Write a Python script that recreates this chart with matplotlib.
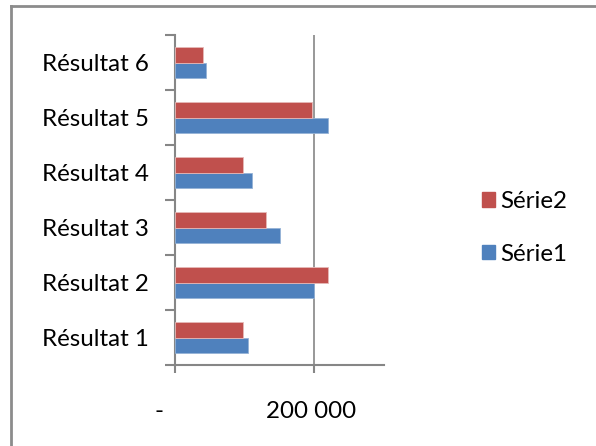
import matplotlib
matplotlib.use("Agg")
import matplotlib.pyplot as plt
from matplotlib.lines import Line2D
from matplotlib.patches import Patch
import numpy as np

categories = ["Résultat 1", "Résultat 2", "Résultat 3", "Résultat 4", "Résultat 5", "Résultat 6"]
serie1 = [105000, 200000, 150000, 110000, 220000, 45000]
serie2 = [98000, 220000, 130000, 98000, 196000, 40000]
x_ticks = [0, 200000]
x_tick_labels = ["-     ", "200 000 "]

plt.rcParams['font.family'] = ['Lato', 'DejaVu Sans']
FS = 17.4
GRAY = '#868686'
RED = '#C0504D'
BLUE = '#4F81BD'

fig = plt.figure(figsize=(5.96, 4.46), dpi=100)
ax = fig.add_axes([175/596, 1-365/446, (384-175)/596, (365-35)/446])

y = np.arange(len(categories))
h = 1/3.5
ax.barh(y - h/2, serie1, height=h, color=BLUE, edgecolor='#95B3D7', linewidth=0.6, zorder=3)
ax.barh(y + h/2, serie2, height=h, color=RED, edgecolor='#E6B9B8', linewidth=0.6, zorder=3)

ax.set_xlim(0, 300000)
ax.set_ylim(-0.5, len(categories) - 0.5)

ax.set_yticks(y)
ax.set_yticklabels(categories, fontsize=FS)
ax.set_yticks(np.arange(-0.5, len(categories), 1.0), minor=True)
ax.tick_params(axis='y', which='major', length=0, pad=19)
ax.tick_params(axis='y', which='minor', length=7, width=1.5, color=GRAY)

ax.set_xticks(x_ticks)
ax.set_xticklabels(x_tick_labels, fontsize=FS)
ax.tick_params(axis='x', which='major', length=6, width=1.5, color=GRAY, pad=20)

ax.axvline(200000, color=GRAY, linewidth=1.2, zorder=1)

for s in ['top', 'right']:
    ax.spines[s].set_visible(False)
for s in ['left', 'bottom']:
    ax.spines[s].set_color(GRAY)
    ax.spines[s].set_linewidth(1.5)

handles = [Patch(color=RED), Patch(color=BLUE)]
fig.legend(handles, ["Série2", "Série1"], loc='center left',
           bbox_to_anchor=(460/596, 1-228/446), frameon=False, fontsize=FS,
           handlelength=0.55, handleheight=0.55, handletextpad=0.2, labelspacing=1.3)

# chart border (top and left visible in cropped reference)
fig.add_artist(Line2D([11/596, 11/596], [0, 1-6/446], color='#8C8C8C', linewidth=2, transform=fig.transFigure))
fig.add_artist(Line2D([11/596, 1], [1-6/446, 1-6/446], color='#8C8C8C', linewidth=2, transform=fig.transFigure))

fig.savefig("out.png", dpi=100)
